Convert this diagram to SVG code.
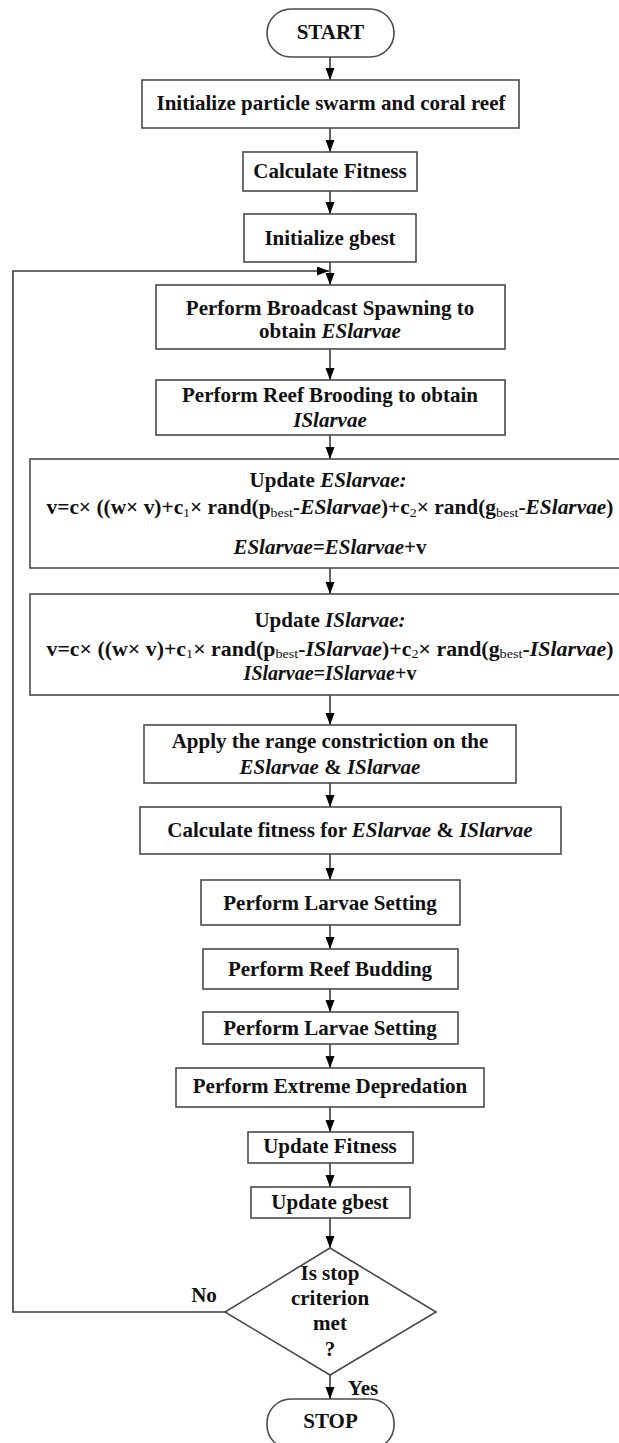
<svg xmlns="http://www.w3.org/2000/svg" width="619" height="1443" viewBox="0 0 619 1443">
<style>
.b{fill:#fff;stroke:#4a4a4a;stroke-width:1.6}
.t{font-family:"Liberation Serif","Times New Roman",serif;font-weight:bold;font-size:21px;fill:#111;text-anchor:middle}
.f{font-size:20px}
.i{font-style:italic}
.s{font-size:13px;font-weight:normal}
.c{fill:none;stroke:#3a3a3a;stroke-width:1.6}
</style>
<defs>
<marker id="ah" markerUnits="userSpaceOnUse" markerWidth="13" markerHeight="10" refX="12" refY="4.5" orient="auto">
<path d="M0,0 L12,4.5 L0,9 z" fill="#000"/>
</marker>
</defs>
<rect width="619" height="1443" fill="#fff"/>
<g id="connectors">
<line class="c" x1="330" y1="57" x2="330" y2="80" marker-end="url(#ah)"/>
<line class="c" x1="330" y1="128" x2="330" y2="152" marker-end="url(#ah)"/>
<line class="c" x1="330" y1="191" x2="330" y2="214" marker-end="url(#ah)"/>
<line class="c" x1="330" y1="262" x2="330" y2="285" marker-end="url(#ah)"/>
<line class="c" x1="330" y1="349" x2="330" y2="380" marker-end="url(#ah)"/>
<line class="c" x1="330" y1="435" x2="330" y2="459" marker-end="url(#ah)"/>
<line class="c" x1="330" y1="568" x2="330" y2="594" marker-end="url(#ah)"/>
<line class="c" x1="330" y1="695" x2="330" y2="725" marker-end="url(#ah)"/>
<line class="c" x1="330" y1="783" x2="330" y2="807" marker-end="url(#ah)"/>
<line class="c" x1="330" y1="854" x2="330" y2="880" marker-end="url(#ah)"/>
<line class="c" x1="330" y1="925" x2="330" y2="949" marker-end="url(#ah)"/>
<line class="c" x1="330" y1="989" x2="330" y2="1012" marker-end="url(#ah)"/>
<line class="c" x1="330" y1="1044" x2="330" y2="1068" marker-end="url(#ah)"/>
<line class="c" x1="330" y1="1107" x2="330" y2="1132" marker-end="url(#ah)"/>
<line class="c" x1="330" y1="1163" x2="330" y2="1187" marker-end="url(#ah)"/>
<line class="c" x1="330" y1="1218" x2="330" y2="1248" marker-end="url(#ah)"/>
<line class="c" x1="330" y1="1375" x2="330" y2="1399" marker-end="url(#ah)"/>
<polyline class="c" points="225,1312 13,1312 13,271 329,271" marker-end="url(#ah)"/>
<text class="t" x="204" y="1302">No</text>
<text class="t" x="363" y="1395">Yes</text>
</g>
<g id="start">
<rect class="b" x="267" y="9" width="127" height="48" rx="24"/>
<text class="t" x="330.5" y="39">START</text>
</g>
<g id="init-swarm">
<rect class="b" x="142" y="80" width="377" height="48"/>
<text class="t" x="331" y="110">Initialize particle swarm and coral reef</text>
</g>
<g id="calc-fitness">
<rect class="b" x="243" y="152" width="174" height="39"/>
<text class="t" x="330" y="178">Calculate Fitness</text>
</g>
<g id="init-gbest">
<rect class="b" x="244" y="214" width="172" height="48"/>
<text class="t" x="330" y="245">Initialize gbest</text>
</g>
<g id="broadcast">
<rect class="b" x="156" y="285" width="349" height="64"/>
<text class="t" x="330" y="315">Perform Broadcast Spawning to</text>
<text class="t" x="330" y="338">obtain <tspan class="i">ESlarvae</tspan></text>
</g>
<g id="brooding">
<rect class="b" x="156" y="380" width="349" height="55"/>
<text class="t" x="330" y="402">Perform Reef Brooding to obtain</text>
<text class="t i" x="330" y="427">ISlarvae</text>
</g>
<g id="update-es">
<rect class="b" x="30" y="459" width="600" height="109"/>
<text class="t" x="328" y="487">Update <tspan class="i">ESlarvae:</tspan></text>
<text class="t f" x="330" y="514" textLength="567" lengthAdjust="spacingAndGlyphs">v=c× ((w× v)+c<tspan class="s" dy="3">1</tspan><tspan dy="-3">× rand(p</tspan><tspan class="s" dy="3">best</tspan><tspan dy="-3">-</tspan><tspan class="i">ESlarvae</tspan>)+c<tspan class="s" dy="3">2</tspan><tspan dy="-3">× rand(g</tspan><tspan class="s" dy="3">best</tspan><tspan dy="-3">-</tspan><tspan class="i">ESlarvae</tspan>)</text>
<text class="t" x="330" y="554"><tspan class="i">ESlarvae=ESlarvae</tspan>+v</text>
</g>
<g id="update-is">
<rect class="b" x="30" y="594" width="600" height="101"/>
<text class="t" x="330" y="627">Update <tspan class="i">ISlarvae:</tspan></text>
<text class="t f" x="330" y="656" textLength="567" lengthAdjust="spacingAndGlyphs">v=c× ((w× v)+c<tspan class="s" dy="2">1</tspan><tspan dy="-2">× rand(p</tspan><tspan class="s" dy="2">best</tspan><tspan dy="-2">-</tspan><tspan class="i">ISlarvae</tspan>)+c<tspan class="s" dy="2">2</tspan><tspan dy="-2">× rand(g</tspan><tspan class="s" dy="2">best</tspan><tspan dy="-2">-</tspan><tspan class="i">ISlarvae</tspan>)</text>
<text class="t f" x="330" y="680"><tspan class="i">ISlarvae=ISlarvae</tspan>+v</text>
</g>
<g id="range">
<rect class="b" x="144" y="725" width="372" height="58"/>
<text class="t" x="330" y="748">Apply the range constriction on the</text>
<text class="t" x="330" y="774"><tspan class="i">ESlarvae</tspan> &amp; <tspan class="i">ISlarvae</tspan></text>
</g>
<g id="calc-fitness-larvae">
<rect class="b" x="140" y="807" width="421" height="47"/>
<text class="t" x="350" y="837">Calculate fitness for <tspan class="i">ESlarvae</tspan> &amp; <tspan class="i">ISlarvae</tspan></text>
</g>
<g id="larvae-setting-1">
<rect class="b" x="201" y="880" width="259" height="45"/>
<text class="t" x="330" y="910">Perform Larvae Setting</text>
</g>
<g id="reef-budding">
<rect class="b" x="203" y="949" width="255" height="40"/>
<text class="t" x="330" y="976">Perform Reef Budding</text>
</g>
<g id="larvae-setting-2">
<rect class="b" x="203" y="1012" width="255" height="32"/>
<text class="t" x="330" y="1035">Perform Larvae Setting</text>
</g>
<g id="depredation">
<rect class="b" x="176" y="1068" width="308" height="39"/>
<text class="t" x="330" y="1093">Perform Extreme Depredation</text>
</g>
<g id="update-fitness">
<rect class="b" x="248" y="1132" width="165" height="31"/>
<text class="t" x="330" y="1153">Update Fitness</text>
</g>
<g id="update-gbest">
<rect class="b" x="251" y="1187" width="159" height="31"/>
<text class="t" x="330" y="1209">Update gbest</text>
</g>
<g id="decision">
<polygon class="b" points="330,1248 436,1312 330,1375 225,1312"/>
<text class="t" x="330" y="1280">Is stop</text>
<text class="t" x="330" y="1305">criterion</text>
<text class="t" x="330" y="1330">met</text>
<text class="t" x="330" y="1356">?</text>
</g>
<g id="stop">
<rect class="b" x="267" y="1399" width="127" height="50" rx="24"/>
<text class="t" x="330.5" y="1428">STOP</text>
</g>
</svg>
